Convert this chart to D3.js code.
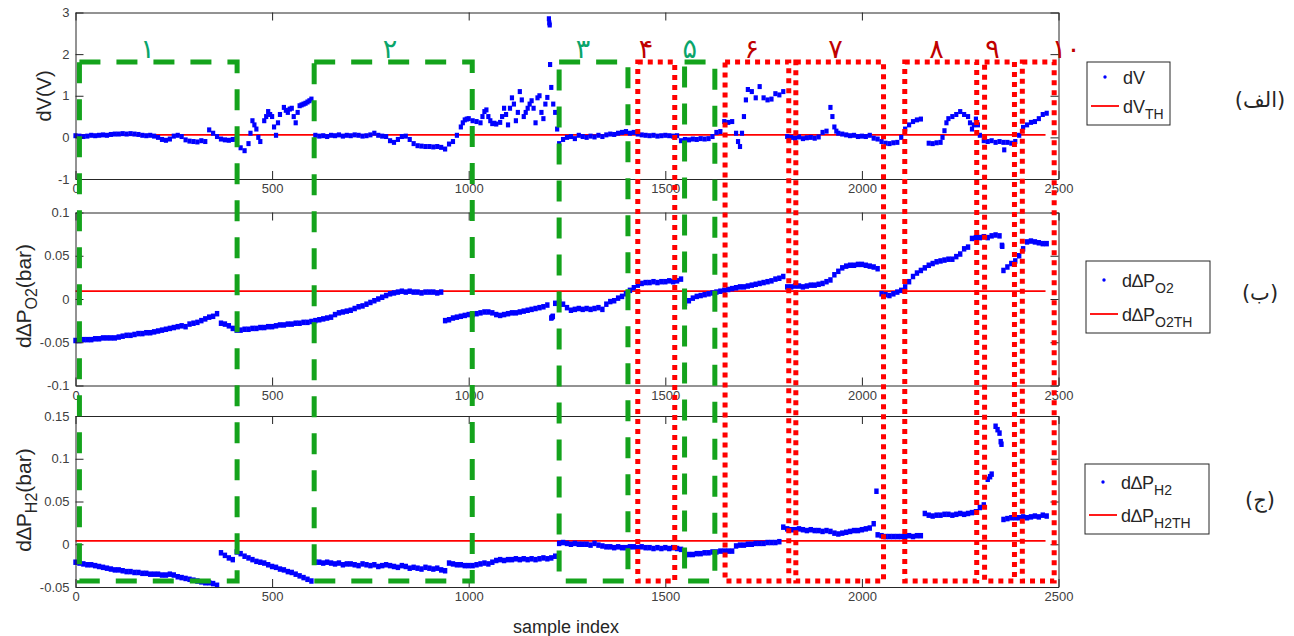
<!DOCTYPE html>
<html>
<head>
<meta charset="utf-8">
<script src="https://cdn.jsdelivr.net/npm/d3@7/dist/d3.min.js"></script>
<style>
  html, body { margin: 0; padding: 0; background: #fff; }
  svg { display: block; }
  text { font-family: "Liberation Sans", Arial, sans-serif; }
</style>
</head>
<body>
<svg id="chart" width="1294" height="636"></svg>
<script>
// ---- data -------------------------------------------------------------
// samples recorded every 10 indices, 0 … 2470
const sampleIndex = d3.range(0, 2471, 10);

// voltage deviation dV (V)
const dV = [
  0.04, 0.03, 0.02, 0.03, 0.05, 0.04, 0.05, 0.06, 0.05, 0.07,
  0.08, 0.08, 0.09, 0.08, 0.09, 0.08, 0.07, 0.05, 0.04, 0.05,
  0.03, 0.0, -0.05, -0.07, -0.04, 0.03, 0.05, 0.02, -0.06, -0.09,
  -0.1, -0.11, -0.08, -0.1, 0.18, 0.1, 0.02, -0.04, -0.06, -0.07,
  -0.05, -0.02, -0.25, -0.32, -0.15, 0.4, 0.2, -0.1, 0.4, 0.62,
  0.5, 0.05, 0.55, 0.72, 0.6, 0.7, 0.35, 0.76, 0.8, 0.85,
  0.92, 0.05, 0.03, 0.04, 0.02, 0.05, 0.04, 0.06, 0.03, 0.05,
  0.04, 0.06, 0.05, 0.03, 0.04, 0.06, 0.1, 0.05, 0.03, 0.02,
  -0.08, -0.12, -0.05, 0.02, 0.03, -0.05, -0.15, -0.2, -0.21, -0.22,
  -0.22, -0.23, -0.22, -0.24, -0.28, -0.16, -0.1, 0.05, 0.25, 0.42,
  0.45, 0.4, 0.38, 0.35, 0.62, 0.5, 0.33, 0.32, 0.36, 0.7,
  0.3, 0.95, 0.4, 1.1, 0.5, 0.7, 0.88, 0.35, 1.0, 0.45,
  0.96, 1.2, 0.6, -0.15, -0.05, 0.0, 0.02, -0.03, 0.05, 0.02,
  0.0, 0.03, 0.01, 0.05, 0.02, 0.06, 0.08, 0.07, 0.1, 0.12,
  0.14, 0.1, 0.12, 0.08, 0.06, 0.05, 0.04, 0.05, 0.03, 0.04,
  0.05, 0.04, 0.03, 0.04, -0.08, -0.05, -0.06, -0.04, -0.05, -0.03,
  -0.04, -0.03, 0.02, 0.12, 0.14, 0.38, 0.36, 0.38, 0.1, -0.22,
  0.5, 1.15, 1.1, 0.95, 1.22, 0.95, 0.9, 0.92, 1.05, 1.02,
  1.1, 0.02, 0.0, -0.02, 0.01, -0.03, -0.01, 0.0, -0.02, 0.01,
  0.12, 0.15, 0.72, 0.25, 0.1, 0.08, 0.06, 0.04, 0.05, 0.02,
  0.03, 0.02, 0.05, -0.02, -0.04, -0.1, -0.14, -0.15, -0.13, -0.12,
  0.0, 0.2, 0.3, 0.38, 0.42, 0.44, null, -0.14, -0.15, -0.13,
  -0.12, 0.16, 0.45, 0.5, 0.55, 0.62, 0.55, 0.5, 0.2, 0.44,
  0.05, -0.08, -0.1, -0.08, -0.12, -0.1, -0.12, -0.12, -0.14, -0.1,
  0.05, 0.24, 0.3, 0.36, 0.38, 0.45, 0.55, 0.58
];
// in-between samples of the fast transients: [index, dV]
const dVExtra = [
  [445, 0.1], [455, 0.3], [465, 0.0], [485, 0.5], [495, 0.55], [505, 0.25],
  [515, 0.35], [535, 0.65], [545, 0.68], [555, 0.5], [565, 0.6], [575, 0.78],
  [585, 0.82], [595, 0.88], [985, 0.35], [995, 0.44], [1035, 0.5], [1045, 0.66],
  [1055, 0.4], [1065, 0.34], [1085, 0.5], [1095, 0.55], [1105, 0.7], [1115, 0.8],
  [1125, 0.6], [1135, 0.9], [1145, 0.6], [1155, 0.8], [1165, 0.7], [1175, 0.95],
  [1185, 0.6], [1195, 0.8], [1204, 2.85], [1205, 2.75], [1206, 2.7], [1207, 1.75],
  [1215, 0.8], [1225, 0.2], [1685, -0.1], [1695, 0.1], [1705, 0.9], [1925, 0.5],
  [1935, 0.15], [2205, 0.0], [2215, 0.35], [2275, 0.35], [2285, 0.3], [2295, 0.3],
  [2362, -0.3]
];

// oxygen pressure-drop deviation dΔP_O2 (bar)
const dPO2 = [
  -0.048, -0.048, -0.047, -0.047, -0.047, -0.046, -0.046, -0.045, -0.045, -0.045,
  -0.045, -0.044, -0.043, -0.042, -0.042, -0.041, -0.040, -0.040, -0.039, -0.039,
  -0.038, -0.037, -0.036, -0.035, -0.034, -0.033, -0.032, -0.031, -0.032, -0.029,
  -0.028, -0.027, -0.025, -0.023, -0.021, -0.020, -0.017, -0.028, -0.029, -0.031,
  -0.034, -0.036, -0.036, -0.035, -0.035, -0.034, -0.034, -0.033, -0.033, -0.032,
  -0.032, -0.031, -0.030, -0.030, -0.029, -0.029, -0.028, -0.028, -0.027, -0.027,
  -0.026, -0.025, -0.024, -0.023, -0.022, -0.021, -0.018, -0.016, -0.015, -0.014,
  -0.013, -0.011, -0.009, -0.008, -0.006, -0.004, -0.002, 0.000, 0.002, 0.004,
  0.006, 0.007, 0.008, 0.009, 0.008, 0.009, 0.008, 0.008, 0.007, 0.008,
  0.008, 0.008, 0.007, 0.008, -0.025, -0.024, -0.022, -0.021, -0.020, -0.019,
  -0.018, -0.018, -0.017, -0.016, -0.015, -0.015, -0.016, -0.018, -0.019, -0.018,
  -0.017, -0.016, -0.016, -0.015, -0.014, -0.013, -0.012, -0.011, -0.010, -0.009,
  -0.007, -0.022, -0.005, -0.003, -0.006, -0.010, -0.013, -0.012, -0.011, -0.012,
  -0.011, -0.012, -0.011, -0.010, -0.012, -0.006, -0.003, -0.002, 0.001, 0.003,
  0.006, 0.010, 0.013, 0.016, 0.018, 0.019, 0.019, 0.020, 0.019, 0.020,
  0.020, 0.021, 0.020, 0.021, 0.023, -0.005, -0.002, 0.001, 0.003, 0.004,
  0.005, 0.006, 0.007, 0.008, 0.009, 0.010, 0.011, 0.012, 0.013, 0.014,
  0.014, 0.015, 0.016, 0.017, 0.018, 0.019, 0.020, 0.021, 0.023, 0.024,
  0.026, 0.014, 0.014, 0.015, 0.015, 0.014, 0.015, 0.016, 0.016, 0.017,
  0.018, 0.020, 0.022, 0.028, 0.032, 0.036, 0.038, 0.039, 0.039, 0.040,
  0.040, 0.039, 0.038, 0.037, 0.035, 0.006, 0.005, 0.004, 0.006, 0.008,
  0.010, 0.014, 0.020, 0.026, 0.030, 0.033, 0.036, 0.039, 0.041, 0.043,
  0.044, 0.045, 0.046, 0.046, 0.049, 0.052, 0.058, 0.060, 0.070, 0.071,
  0.071, 0.072, 0.071, 0.073, 0.074, 0.073, 0.033, 0.037, 0.041, 0.044,
  0.050, 0.058, 0.066, 0.067, 0.066, 0.065, 0.064, 0.064
];
const dPO2Extra = [[1212, -0.021], [1214, -0.020], [2356, 0.062], [2357, 0.061]];

// hydrogen pressure-drop deviation dΔP_H2 (bar)
const dPH2 = [
  -0.021, -0.022, -0.023, -0.024, -0.024, -0.025, -0.026, -0.027, -0.028, -0.029,
  -0.030, -0.030, -0.031, -0.032, -0.032, -0.033, -0.033, -0.034, -0.034, -0.035,
  -0.035, -0.035, -0.036, -0.036, -0.035, -0.036, -0.038, -0.039, -0.040, -0.041,
  -0.042, -0.043, -0.044, -0.045, -0.045, -0.046, -0.048, -0.010, -0.013, -0.016,
  -0.018, -0.009, -0.011, -0.014, -0.016, -0.018, -0.020, -0.021, -0.022, -0.024,
  -0.026, -0.027, -0.029, -0.030, -0.032, -0.033, -0.035, -0.037, -0.039, -0.041,
  -0.043, -0.021, -0.021, -0.022, -0.021, -0.022, -0.023, -0.022, -0.024, -0.023,
  -0.023, -0.024, -0.025, -0.023, -0.024, -0.025, -0.024, -0.026, -0.025, -0.024,
  -0.025, -0.026, -0.027, -0.025, -0.026, -0.028, -0.027, -0.028, -0.029, -0.027,
  -0.028, -0.029, -0.028, -0.030, -0.031, -0.022, -0.023, -0.024, -0.024, -0.025,
  -0.025, -0.025, -0.024, -0.023, -0.022, -0.023, -0.021, -0.019, -0.018, -0.019,
  -0.018, -0.018, -0.017, -0.018, -0.017, -0.018, -0.017, -0.018, -0.017, -0.016,
  -0.017, -0.016, -0.014, 0.001, 0.002, 0.001, 0.000, 0.001, 0.000, 0.000,
  0.000, -0.001, 0.001, -0.001, -0.002, -0.003, -0.003, -0.004, -0.003, -0.004,
  -0.004, -0.003, -0.003, -0.004, -0.003, -0.004, -0.004, -0.005, -0.004, -0.005,
  -0.004, -0.005, -0.004, -0.005, -0.006, -0.013, -0.012, -0.012, -0.011, -0.011,
  -0.010, -0.010, -0.009, -0.009, -0.008, -0.008, -0.008, -0.008, -0.002, -0.001,
  -0.001, 0.000, 0.000, 0.001, 0.001, 0.001, 0.002, 0.002, 0.002, 0.003,
  0.020, 0.018, 0.017, 0.017, 0.018, 0.017, 0.016, 0.017, 0.016, 0.016,
  0.015, 0.016, 0.015, 0.013, 0.012, 0.013, 0.014, 0.015, 0.016, 0.016,
  0.017, 0.018, 0.019, 0.024, 0.011, 0.010, 0.009, 0.009, 0.009, 0.009,
  0.009, 0.009, 0.010, 0.009, 0.010, 0.010, 0.036, 0.034, 0.033, 0.034,
  0.034, 0.035, 0.035, 0.034, 0.035, 0.036, 0.035, 0.036, 0.037, 0.038,
  0.043, 0.046, 0.076, 0.082, 0.138, 0.130, 0.029, 0.030, 0.031, 0.031,
  0.031, 0.032, 0.031, 0.032, 0.033, 0.032, 0.034, 0.033
];
const dPH2Extra = [[2037, 0.062], [2326, 0.079], [2345, 0.134], [2353, 0.12], [2355, 0.117]];

// threshold levels, drawn over the recorded range
const thresholdRange = [0, 2467];
const dVTH = 0.06;
const dPO2TH = 0.009;
const dPH2TH = 0.004;

// tick values and labels
const xTicks = [0, 500, 1000, 1500, 2000, 2500];
const xTickLabels = ["0", "500", "1000", "1500", "2000", "2500"];
const dVTicks = [-1, 0, 1, 2, 3];
const dVTickLabels = ["-1", "0", "1", "2", "3"];
const dPO2Ticks = [-0.1, -0.05, 0, 0.05, 0.1];
const dPO2TickLabels = ["-0.1", "-0.05", "0", "0.05", "0.1"];
const dPH2Ticks = [-0.05, 0, 0.05, 0.1, 0.15];
const dPH2TickLabels = ["-0.05", "0", "0.05", "0.1", "0.15"];

// operating windows [start, end] in sample index; healthy (green) and faulty (red)
const healthyWindows = [[10, 411], [607, 1009], [1230, 1405], [1549, 1626]];
const faultyWindows = [[1430, 1524], [1652, 1814], [1832, 2055], [2109, 2292], [2312, 2388], [2408, 2489]];
const windowNames = ["۱", "۲", "۳", "۴", "۵", "۶", "۷", "۸", "۹", "۱۰"];
const windowNamePos = [183, 800, 1291, 1451, 1562, 1720, 1933, 2190, 2332, 2520];
const windowNameHealthy = [true, true, true, false, true, false, false, false, false, false];

// ---- layout -------------------------------------------------------------
const svg = d3.select("#chart");
const X0 = 75.5, X1 = 1058.5;
const x = d3.scaleLinear().domain([0, 2500]).range([X0, X1]);
const axisColor = "#262626";
const labelColor = "#404040";

const panels = [
  { top: 12.5, bottom: 179, domain: [-1, 3], ticks: dVTicks, tickLabels: dVTickLabels,
    values: dV, extra: dVExtra, th: dVTH, w: 4.2, h: 5 },
  { top: 212.5, bottom: 385.5, domain: [-0.1, 0.1], ticks: dPO2Ticks, tickLabels: dPO2TickLabels,
    values: dPO2, extra: dPO2Extra, th: dPO2TH, w: 4.4, h: 5.5 },
  { top: 416, bottom: 587, domain: [-0.05, 0.15], ticks: dPH2Ticks, tickLabels: dPH2TickLabels,
    values: dPH2, extra: dPH2Extra, th: dPH2TH, w: 4.4, h: 5.5 }
];

function styleAxis(g) {
  g.select(".domain").attr("stroke", axisColor).attr("stroke-width", 1);
  g.selectAll(".tick line").attr("stroke", axisColor).attr("stroke-width", 1);
  g.selectAll(".tick text").attr("fill", labelColor)
    .style("font-family", "'Liberation Sans', Arial, sans-serif").style("font-size", "13px");
}

panels.forEach(p => {
  const y = d3.scaleLinear().domain(p.domain).range([p.bottom, p.top]);
  const g = svg.append("g");

  // threshold
  g.append("line")
    .attr("x1", x(thresholdRange[0])).attr("x2", x(thresholdRange[1]))
    .attr("y1", y(p.th)).attr("y2", y(p.th))
    .attr("stroke", "#ff0000").attr("stroke-width", 1.8);

  // measured points
  const pts = sampleIndex.map((s, i) => [s, p.values[i]])
    .filter(d => d[1] !== null && d[1] !== undefined)
    .concat(p.extra);
  g.append("g").selectAll("rect").data(pts).join("rect")
    .attr("x", d => x(d[0]) - p.w / 2).attr("y", d => y(d[1]) - p.h / 2)
    .attr("width", p.w).attr("height", p.h)
    .attr("fill", "#0000ff");

  // axes (ticks point inward)
  g.append("g").attr("transform", `translate(0,${p.bottom})`)
    .call(d3.axisBottom(x).tickValues(xTicks).tickFormat((d, i) => xTickLabels[i])
      .tickSizeInner(-8).tickSizeOuter(0).tickPadding(5))
    .call(styleAxis);
  g.append("g").attr("transform", `translate(0,${p.top})`)
    .call(d3.axisTop(x).tickValues(xTicks).tickFormat("").tickSizeInner(-8).tickSizeOuter(0))
    .call(styleAxis);
  g.append("g").attr("transform", `translate(${X0},0)`)
    .call(d3.axisLeft(y).tickValues(p.ticks).tickFormat((d, i) => p.tickLabels[i])
      .tickSizeInner(-8).tickSizeOuter(0).tickPadding(6))
    .call(styleAxis);
  g.append("g").attr("transform", `translate(${X1},0)`)
    .call(d3.axisRight(y).tickValues(p.ticks).tickFormat("").tickSizeInner(-8).tickSizeOuter(0))
    .call(styleAxis);
});

// ---- operating windows ----------------------------------------------------
const winTop = 62, winBottom = 581;
const overlay = svg.append("g");
overlay.selectAll("rect.healthy").data(healthyWindows).join("rect")
  .attr("class", "healthy")
  .attr("x", d => x(d[0])).attr("y", winTop)
  .attr("width", d => x(d[1]) - x(d[0])).attr("height", winBottom - winTop)
  .attr("fill", "none").attr("stroke", "#14a31c").attr("stroke-width", 5)
  .attr("stroke-dasharray", "21 16");
overlay.selectAll("rect.faulty").data(faultyWindows).join("rect")
  .attr("class", "faulty")
  .attr("x", d => x(d[0])).attr("y", winTop)
  .attr("width", d => x(d[1]) - x(d[0])).attr("height", winBottom - winTop)
  .attr("fill", "none").attr("stroke", "#ff0000").attr("stroke-width", 5)
  .attr("stroke-dasharray", "5 5");

overlay.selectAll("text.wname").data(windowNames).join("text")
  .attr("class", "wname")
  .attr("x", (d, i) => x(windowNamePos[i])).attr("y", 58)
  .attr("text-anchor", "middle")
  .style("font-family", "'DejaVu Sans', sans-serif").style("font-size", "27px")
  .attr("fill", (d, i) => windowNameHealthy[i] ? "#0aa56a" : "#c00000")
  .text(d => d);

// ---- axis titles ------------------------------------------------------------
function subText(sel, parts) {
  parts.forEach(pt => {
    const t = sel.append("tspan").text(pt.t);
    if (pt.size) t.style("font-size", pt.size);
    if (pt.dy) t.attr("dy", pt.dy);
  });
}

svg.append("text").attr("transform", "translate(51,96) rotate(-90)")
  .attr("text-anchor", "middle").style("font-size", "20px").attr("fill", "#262626")
  .text("dV(V)");

const yl2 = svg.append("text").attr("transform", "translate(31,296) rotate(-90)")
  .attr("text-anchor", "middle").style("font-size", "21px").attr("fill", "#262626");
subText(yl2, [{ t: "d∆P" }, { t: "O2", size: "16px", dy: 6 }, { t: "(bar)", dy: -6 }]);

const yl3 = svg.append("text").attr("transform", "translate(31,500) rotate(-90)")
  .attr("text-anchor", "middle").style("font-size", "21px").attr("fill", "#262626");
subText(yl3, [{ t: "d∆P" }, { t: "H2", size: "16px", dy: 6 }, { t: "(bar)", dy: -6 }]);

svg.append("text").attr("x", 566).attr("y", 633).attr("text-anchor", "middle")
  .style("font-size", "18px").attr("fill", "#262626").text("sample index");

// ---- legends ------------------------------------------------------------------
const legends = [
  { x: 1087, y: 62, w: 83, h: 63, dotY: 77, lineY: 106, name: "dV", sub: "", thSub: "TH" },
  { x: 1086, y: 261, w: 124, h: 72, dotY: 280, lineY: 314, name: "d∆P", sub: "O2", thSub: "O2TH" },
  { x: 1085, y: 464, w: 124, h: 70, dotY: 482, lineY: 515, name: "d∆P", sub: "H2", thSub: "H2TH" }
];
legends.forEach(l => {
  const g = svg.append("g");
  g.append("rect").attr("x", l.x).attr("y", l.y).attr("width", l.w).attr("height", l.h)
    .attr("fill", "#fff").attr("stroke", axisColor).attr("stroke-width", 1);
  g.append("circle").attr("cx", l.x + 18).attr("cy", l.dotY).attr("r", 1.7).attr("fill", "#0000ff");
  const t1 = g.append("text").attr("x", l.x + 36).attr("y", l.dotY + 7)
    .style("font-size", "18px").attr("fill", "#262626");
  subText(t1, l.sub ? [{ t: l.name }, { t: l.sub, size: "14px", dy: 6 }] : [{ t: l.name }]);
  g.append("line").attr("x1", l.x + 4).attr("x2", l.x + 32).attr("y1", l.lineY).attr("y2", l.lineY)
    .attr("stroke", "#ff0000").attr("stroke-width", 1.8);
  const t2 = g.append("text").attr("x", l.x + 36).attr("y", l.lineY + 7)
    .style("font-size", "18px").attr("fill", "#262626");
  subText(t2, [{ t: l.name }, { t: l.thSub, size: "14px", dy: 6 }]);
});

// ---- panel captions -------------------------------------------------------------
const captions = [["(الف)", 100], ["(ب)", 293], ["(ج)", 500]];
svg.selectAll("text.cap").data(captions).join("text")
  .attr("class", "cap")
  .attr("x", 1260).attr("y", d => d[1] + 7)
  .attr("text-anchor", "middle")
  .style("font-family", "'DejaVu Sans', sans-serif").style("font-size", "21px")
  .attr("fill", "#262626")
  .text(d => d[0]);
</script>
</body>
</html>
